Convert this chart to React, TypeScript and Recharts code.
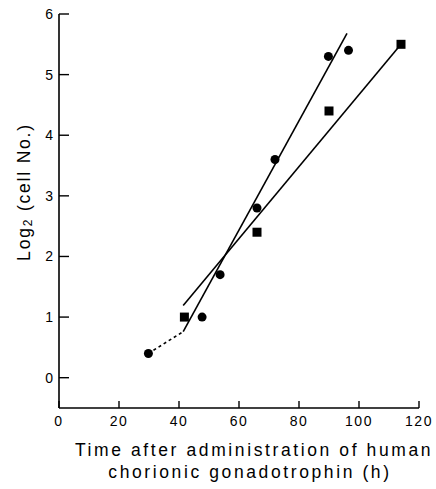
import { ComposedChart, Line, Scatter, XAxis, YAxis, Label } from "recharts";

// measured points (time in h, log2 cell number)
const circleX = [29.8, 47.7, 53.7, 66, 72, 89.8, 96.5];
const circleY = [0.4, 1.0, 1.7, 2.8, 3.6, 5.3, 5.4];
const squareX = [41.8, 66, 90, 114];
const squareY = [1.0, 2.4, 4.4, 5.5];

// fitted lines
const circleFitX = [41.4, 96];
const circleFitY = [0.76, 5.68];
const squareFitX = [41.4, 114];
const squareFitY = [1.19, 5.5];
const dottedX = [29.8, 41.4];
const dottedY = [0.4, 0.76];

const xTicks = [0, 20, 40, 60, 80, 100, 120];
const yTicks = [0, 1, 2, 3, 4, 5, 6];

const zip = (xs: number[], ys: number[]) => xs.map((x, i) => ({ x, y: ys[i] }));

const circles = zip(circleX, circleY);
const squares = zip(squareX, squareY);
const circleFit = zip(circleFitX, circleFitY);
const squareFit = zip(squareFitX, squareFitY);
const dotted = zip(dottedX, dottedY);

const font = "'Liberation Sans', Arial, sans-serif";

const CircleDot = (p: any) => <circle cx={p.cx} cy={p.cy} r={4.5} fill="#000" />;
const SquareDot = (p: any) => (
  <rect x={p.cx - 4.5} y={p.cy - 4.5} width={9} height={9} fill="#000" />
);

// ticks point inward, so the tick line is drawn with the label
const XTick = (p: any) => (
  <g>
    <path d={`M${p.x},${p.y}v-7`} stroke="#000" strokeWidth={1.4} fill="none" />
    <text
      x={p.x}
      y={p.y + 18}
      textAnchor="middle"
      fontFamily={font}
      fontSize={14}
      letterSpacing={1.5}
      fill="#000"
    >
      {p.payload.value}
    </text>
  </g>
);

const YTick = (p: any) => (
  <g>
    <path d={`M${p.x},${p.y}h10`} stroke="#000" strokeWidth={1.4} fill="none" />
    <text
      x={p.x - 6}
      y={p.y + 5}
      textAnchor="end"
      fontFamily={font}
      fontSize={14}
      fill="#000"
    >
      {p.payload.value}
    </text>
  </g>
);

const XLabel = (props: any) => {
  const vb = props.viewBox;
  return (
    <text fontFamily={font} fontSize={17.5} letterSpacing={2.6} fill="#000">
      <tspan x={254} y={vb.y + 48} textAnchor="middle">Time after administration of human</tspan>
      <tspan x={250} y={vb.y + 70} textAnchor="middle">chorionic gonadotrophin (h)</tspan>
    </text>
  );
};

const YLabel = () => {
  const cx = 24;
  const cy = 192;
  return (
    <text
      transform={`rotate(-90 ${cx} ${cy})`}
      x={cx}
      y={cy}
      textAnchor="middle"
      dominantBaseline="central"
      fontFamily={font}
      fontSize={17.5}
      letterSpacing={1.8}
      fill="#000"
    >
      Log
      <tspan fontSize={12} dy={4}>2</tspan>
      <tspan dy={-4}> (cell No.)</tspan>
    </text>
  );
};

export default function App() {
  return (
    <div style={{ position: "absolute", left: 0, top: 0, background: "#fff" }}>
      <ComposedChart
        width={436}
        height={489}
        margin={{ top: 14, right: 17, bottom: 0, left: 0 }}
      >
        <XAxis
          type="number"
          dataKey="x"
          domain={[0, 120]}
          ticks={xTicks}
          height={81}
          tickSize={0}
          tickMargin={0}
          axisLine={{ stroke: "#000", strokeWidth: 1.6 }}
          tickLine={false}
          tick={XTick}
          interval={0}
          allowDataOverflow
        >
          <Label content={<XLabel />} />
        </XAxis>
        <YAxis
          type="number"
          dataKey="y"
          domain={[-0.5, 6]}
          ticks={yTicks}
          width={59}
          tickSize={0}
          tickMargin={0}
          axisLine={{ stroke: "#000", strokeWidth: 1.6 }}
          tickLine={false}
          tick={YTick}
          interval={0}
          allowDataOverflow
        >
          <Label content={<YLabel />} />
        </YAxis>
        <Line
          data={dotted}
          dataKey="y"
          stroke="#000"
          strokeWidth={1.6}
          strokeDasharray="3 3"
          dot={false}
          isAnimationActive={false}
        />
        <Line
          data={circleFit}
          dataKey="y"
          stroke="#000"
          strokeWidth={1.6}
          dot={false}
          isAnimationActive={false}
        />
        <Line
          data={squareFit}
          dataKey="y"
          stroke="#000"
          strokeWidth={1.6}
          dot={false}
          isAnimationActive={false}
        />
        <Scatter data={circles} shape={CircleDot} isAnimationActive={false} />
        <Scatter data={squares} shape={SquareDot} isAnimationActive={false} />
      </ComposedChart>
    </div>
  );
}
